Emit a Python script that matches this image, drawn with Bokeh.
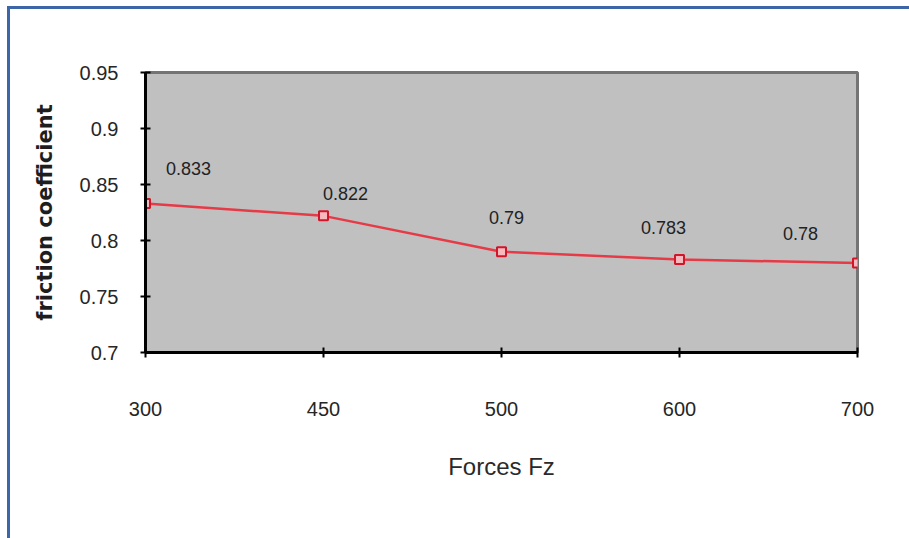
from bokeh.core.properties import value
from bokeh.plotting import figure
from bokeh.models import (ColumnDataSource, FixedTicker, InlineStyleSheet,
                          LabelSet, Range1d)
from bokeh.embed import file_html
from bokeh.resources import INLINE

# Normal force settings (category labels) and measured friction coefficients
forces = ["300", "450", "500", "600", "700"]
friction = [0.833, 0.822, 0.79, 0.783, 0.78]
value_labels = ["0.833", "0.822", "0.79", "0.783", "0.78"]
y_ticks = [0.7, 0.75, 0.8, 0.85, 0.9, 0.95]

# Label placement relative to each marker, in screen pixels
label_dx = [43, 22, 5, -16, -57]
label_dy = [35, 22, 34, 32, 29]

positions = list(range(len(forces)))

source = ColumnDataSource(dict(
    x=positions, y=friction, text=value_labels, dx=label_dx, dy=label_dy,
))

TICK_FONT = "Liberation Sans"

p = figure(
    width=909, height=538,
    x_range=Range1d(0, len(forces) - 1),
    y_range=Range1d(y_ticks[0], y_ticks[-1]),
    output_backend="svg", toolbar_location=None,
    min_border_left=145, min_border_right=52,
    min_border_top=72, min_border_bottom=186,
)
p.background_fill_color = "#c0c0c0"
p.border_fill_color = "white"
p.outline_line_color = "#747474"
p.outline_line_width = 3
p.grid.visible = False

# Axes
p.xaxis.ticker = FixedTicker(ticks=positions)
p.xaxis.major_label_overrides = {i: f for i, f in zip(positions, forces)}
p.yaxis.ticker = FixedTicker(ticks=y_ticks)
p.yaxis.major_label_overrides = {t: f"{t:g}" for t in y_ticks}

for ax in (p.xaxis, p.yaxis):
    ax.axis_line_color = "black"
    ax.axis_line_width = 3
    ax.major_tick_line_color = "black"
    ax.major_tick_line_width = 2
    ax.major_tick_in = 5
    ax.major_tick_out = 5
    ax.minor_tick_line_color = None
    ax.major_label_text_font = TICK_FONT
    ax.major_label_text_font_size = "20px"
    ax.major_label_text_color = "#262626"

p.yaxis.major_label_standoff = 22
p.xaxis.major_label_standoff = 44

p.xaxis.axis_label = "Forces Fz"
p.xaxis.axis_label_text_font = TICK_FONT
p.xaxis.axis_label_text_font_style = "normal"
p.xaxis.axis_label_text_font_size = "24px"
p.xaxis.axis_label_text_color = "#2a2a2a"
p.xaxis.axis_label_standoff = 34

p.yaxis.axis_label = "friction coefficient"
p.yaxis.axis_label_text_font = "DejaVu Sans"
p.yaxis.axis_label_text_font_style = "bold"
p.yaxis.axis_label_text_font_size = "21px"
p.yaxis.axis_label_text_color = "#1e1e1e"
p.yaxis.axis_label_standoff = 20

# Series
p.line("x", "y", source=source, line_color="#e63a46", line_width=2.5)
p.scatter("x", "y", source=source, marker="square", size=9,
          fill_color="#f7b9bd", line_color="#d3152a", line_width=2)

p.add_layout(LabelSet(
    x="x", y="y", text="text", source=source,
    x_offset="dx", y_offset="dy",
    text_align="center", text_baseline="middle",
    text_font=value(TICK_FONT), text_font_size=value("18px"),
    text_color=value("#222222"),
))

# Outer page frame (top and left edges fall inside the page)
p.stylesheets = [InlineStyleSheet(css="""
:host { position: relative; }
:host::after {
  content: "";
  position: absolute;
  left: 7px; top: 6px;
  width: 902px; height: 532px;
  border-left: 3px solid #3d66a8;
  border-top: 3px solid #3d66a8;
  box-sizing: border-box;
  pointer-events: none;
  z-index: 10;
}
""")]

open("out.html", "w").write(file_html(p, INLINE))
